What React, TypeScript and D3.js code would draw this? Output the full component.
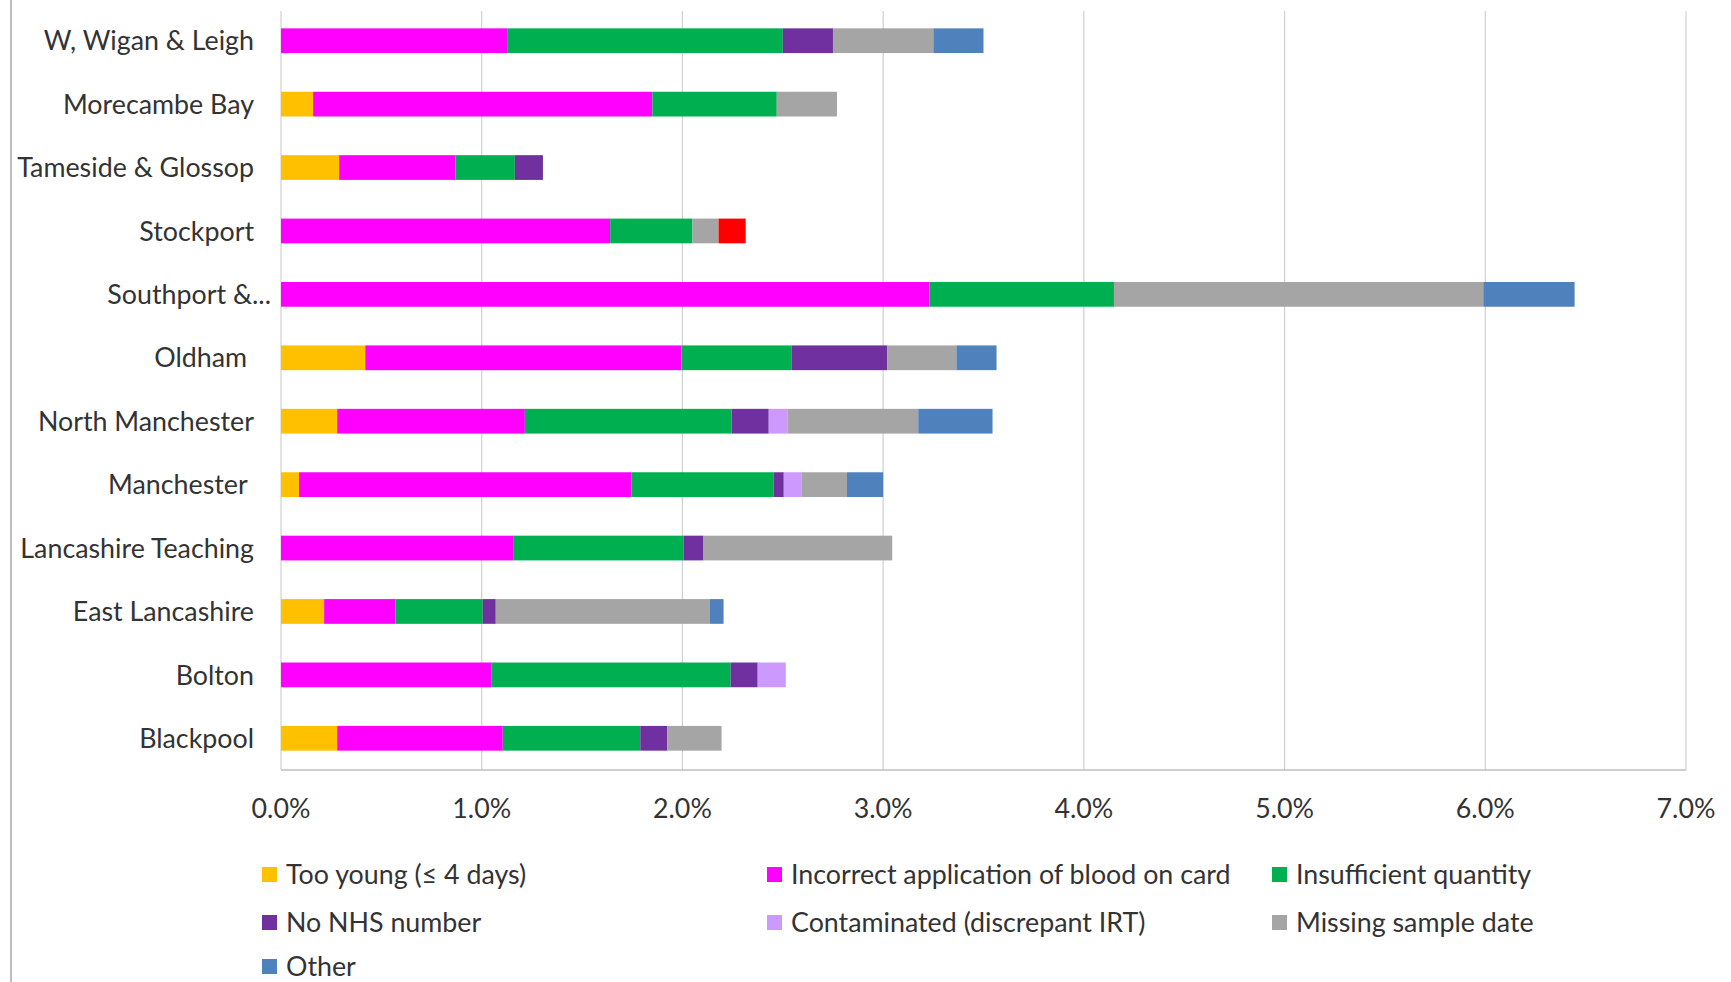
import React from "react";
import * as d3 from "d3";

// Hospital trusts, top to bottom
const categories = [
  "W, Wigan & Leigh",
  "Morecambe Bay",
  "Tameside & Glossop",
  "Stockport",
  "Southport &...",
  "Oldham ",
  "North Manchester",
  "Manchester ",
  "Lancashire Teaching",
  "East Lancashire",
  "Bolton",
  "Blackpool",
];

// Avoidable repeat reasons, % of samples
const tooYoung = [0, 0.16, 0.29, 0, 0, 0.42, 0.28, 0.09, 0, 0.215, 0, 0.28];
const incorrectApplication = [1.13, 1.69, 0.58, 1.64, 3.23, 1.575, 0.935, 1.655, 1.16, 0.355, 1.05, 0.825];
const insufficientQuantity = [1.37, 0.62, 0.295, 0.41, 0.92, 0.55, 1.03, 0.71, 0.845, 0.435, 1.19, 0.685];
const noNhsNumber = [0.25, 0, 0.14, 0, 0, 0.475, 0.185, 0.05, 0.1, 0.065, 0.135, 0.135];
const contaminated = [0, 0, 0, 0, 0, 0, 0.095, 0.09, 0, 0, 0.14, 0];
const missingSampleDate = [0.5, 0.3, 0, 0.13, 1.84, 0.345, 0.65, 0.225, 0.94, 1.065, 0, 0.27];
const other = [0.25, 0, 0, 0, 0.455, 0.2, 0.37, 0.18, 0, 0.07, 0, 0];
const unlisted = [0, 0, 0, 0.135, 0, 0, 0, 0, 0, 0, 0, 0];

const seriesNames = [
  "Too young (\u2264 4 days)",
  "Incorrect application of blood on card",
  "Insufficient quantity",
  "No NHS number",
  "Contaminated (discrepant IRT)",
  "Missing sample date",
  "Other",
  "unlisted",
];
const seriesValues = [
  tooYoung,
  incorrectApplication,
  insufficientQuantity,
  noNhsNumber,
  contaminated,
  missingSampleDate,
  other,
  unlisted,
];
const seriesColors = ["#FFC000", "#FF00FF", "#00B050", "#7030A0", "#CC99FF", "#A5A5A5", "#4F81BD", "#FF0000"];
const legendSeries = [0, 1, 2, 3, 4, 5, 6];

const xTicks = [0, 1, 2, 3, 4, 5, 6, 7];

const W = 1731;
const H = 982;
const FONT = "Lato, 'Open Sans', sans-serif";
const TEXT = "#333333";

export default function App() {
  const left = 281;
  const right = 1686;
  const top = 9;
  const bottom = 770;

  const x = d3.scaleLinear().domain([0, 7]).range([left, right]);
  const y = d3
    .scaleBand<string>()
    .domain(categories)
    .range([top, bottom])
    .paddingInner(0.61)
    .paddingOuter(0.305);

  const keys = seriesNames.map((_, i) => String(i));
  const rows = categories.map((c, ci) => {
    const r: Record<string, any> = { cat: c };
    seriesValues.forEach((vals, si) => (r[String(si)] = vals[ci]));
    return r;
  });
  const stacked = d3.stack<any>().keys(keys)(rows);

  const legendCols = [262, 767, 1272];
  const legendRows = [874, 922, 966];
  const fs = 26.8;

  return (
    <svg
      width={W}
      height={H}
      style={{ position: "absolute", left: 0, top: 0, background: "#fff" }}
      fontFamily={FONT}
    >
      <rect x={0} y={0} width={W} height={H} fill="#fff" />
      {/* outer frame edge */}
      <line x1={11} x2={11} y1={0} y2={H} stroke="#a6a6a6" strokeWidth={1.5} />

      {/* vertical gridlines */}
      {xTicks.map((t) => (
        <line
          key={"g" + t}
          x1={x(t)}
          x2={x(t)}
          y1={top + 2}
          y2={bottom}
          stroke="#d0d0d0"
          strokeWidth={1.2}
        />
      ))}
      <line x1={left} x2={right} y1={bottom} y2={bottom} stroke="#bfbfbf" strokeWidth={1.5} />

      {/* stacked bars */}
      {stacked.map((layer, si) => (
        <g key={"s" + si} fill={seriesColors[si]}>
          {layer.map((d, ci) =>
            d[1] - d[0] > 0 ? (
              <rect
                key={ci}
                x={x(d[0])}
                width={x(d[1]) - x(d[0])}
                y={y(categories[ci])}
                height={y.bandwidth()}
              />
            ) : null
          )}
        </g>
      ))}

      {/* category labels */}
      {categories.map((c) => (
        <text
          key={c}
          x={c.endsWith("...") ? 271 : 254}
          y={(y(c) as number) + y.bandwidth() / 2}
          dy="0.36em"
          textAnchor="end"
          fontSize={fs}
          fill={TEXT}
          style={{ whiteSpace: "pre" }}
        >
          {c}
        </text>
      ))}

      {/* x tick labels */}
      {xTicks.map((t) => (
        <text
          key={"t" + t}
          x={x(t)}
          y={808}
          dy="0.36em"
          textAnchor="middle"
          fontSize={fs}
          fill={TEXT}
        >
          {d3.format(".1f")(t) + "%"}
        </text>
      ))}

      {/* legend */}
      {legendSeries.map((si, i) => {
        const lx = legendCols[i % 3];
        const ly = legendRows[Math.floor(i / 3)];
        return (
          <g key={"l" + si}>
            <rect x={lx} y={ly - 7} width={15} height={15} fill={seriesColors[si]} />
            <text x={lx + 24} y={ly} dy="0.36em" fontSize={fs} fill={TEXT}>
              {seriesNames[si]}
            </text>
          </g>
        );
      })}
    </svg>
  );
}
